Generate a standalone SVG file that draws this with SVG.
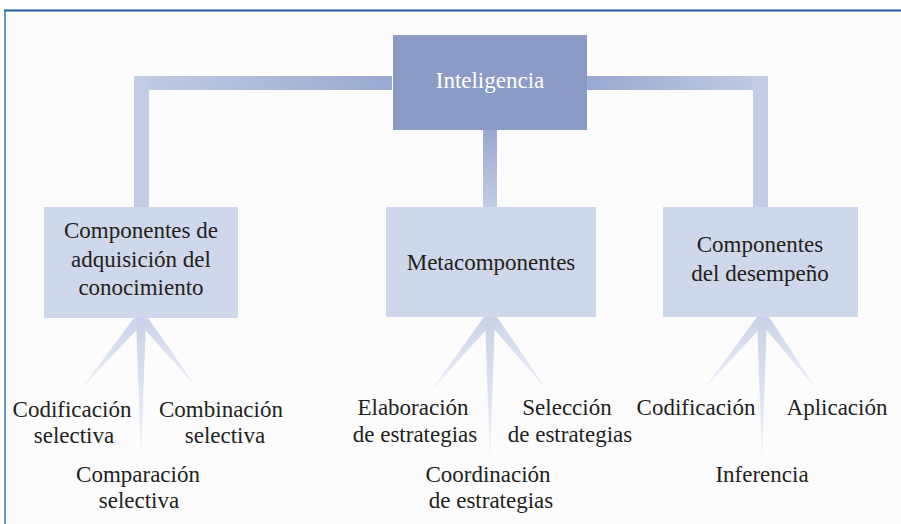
<svg xmlns="http://www.w3.org/2000/svg" width="901" height="524" viewBox="0 0 901 524" font-family="'Liberation Serif', 'Times New Roman', serif">
<defs>
<style>
text{font-family:'Liberation Serif','Times New Roman',serif;font-size:23px;fill:#231f20;text-anchor:middle}
.w{fill:#ffffff}
.box{fill:#cfd7ea}
.spoke{fill:url(#sg)}
</style>
<linearGradient id="hl" x1="134" y1="0" x2="392" y2="0" gradientUnits="userSpaceOnUse">
<stop offset="0" stop-color="#c3cce5"/><stop offset="1" stop-color="#9aa9d0"/>
</linearGradient>
<linearGradient id="hr" x1="587" y1="0" x2="768" y2="0" gradientUnits="userSpaceOnUse">
<stop offset="0" stop-color="#9aa9d0"/><stop offset="1" stop-color="#c3cce5"/>
</linearGradient>
<linearGradient id="vm" x1="0" y1="130" x2="0" y2="207" gradientUnits="userSpaceOnUse">
<stop offset="0" stop-color="#9aa9d0"/><stop offset="1" stop-color="#c3cce5"/>
</linearGradient>
<linearGradient id="sg" x1="0" y1="0" x2="0" y2="1">
<stop offset="0" stop-color="#c8d1e8"/><stop offset="1" stop-color="#f0f2f9"/>
</linearGradient>
</defs>
<rect x="0" y="0" width="901" height="524" fill="#ffffff"/>
<rect x="5" y="11" width="896" height="513" fill="#fcfcfd"/>
<line x1="4" y1="10.5" x2="901" y2="10.5" stroke="#1f5fa9" stroke-width="2"/>
<line x1="5" y1="10" x2="5" y2="524" stroke="#3e72b6" stroke-width="1.5"/>
<g id="connectors">
<rect x="134" y="76" width="258" height="14" fill="url(#hl)"/>
<rect x="134" y="76" width="15" height="131" fill="#c3cce5"/>
<rect x="587" y="76" width="181" height="14" fill="url(#hr)"/>
<rect x="753" y="76" width="15" height="131" fill="#c3cce5"/>
<rect x="483" y="130" width="14" height="77" fill="url(#vm)"/>
<polygon class="spoke" points="134,318 145,321 80,390"/>
<polygon class="spoke" points="137,321 148,318 197,388"/>
<polygon class="spoke" points="136,318 146,318 141,458"/>
<polygon class="spoke" points="484,317 495,320 430,392"/>
<polygon class="spoke" points="486,320 497,317 547,390"/>
<polygon class="spoke" points="485,317 495,317 490,460"/>
<polygon class="spoke" points="757,317 768,320 703,390"/>
<polygon class="spoke" points="758,320 769,317 817,390"/>
<polygon class="spoke" points="757,317 767,317 762,460"/>
</g>
<g id="inteligencia">
<rect x="393" y="35" width="194" height="95" fill="#8a9bc6"/>
<text class="w" x="490" y="88">Inteligencia</text>
</g>
<g id="adquisicion">
<rect class="box" x="44" y="207" width="194" height="111"/>
<text x="141" y="238">Componentes de</text>
<text x="141" y="267">adquisición del</text>
<text x="141" y="295">conocimiento</text>
</g>
<g id="metacomponentes">
<rect class="box" x="386" y="207" width="210" height="110"/>
<text x="491" y="270">Metacomponentes</text>
</g>
<g id="desempeno">
<rect class="box" x="663" y="207" width="195" height="110"/>
<text x="760" y="252">Componentes</text>
<text x="760" y="281">del desempeño</text>
</g>
<g id="codificacion-selectiva">
<text x="72" y="417">Codificación</text>
<text x="74" y="443">selectiva</text>
</g>
<g id="combinacion-selectiva">
<text x="221" y="417">Combinación</text>
<text x="225" y="443">selectiva</text>
</g>
<g id="comparacion-selectiva">
<text x="138" y="482">Comparación</text>
<text x="139" y="508">selectiva</text>
</g>
<g id="elaboracion">
<text x="413" y="415">Elaboración</text>
<text x="415" y="442">de estrategias</text>
</g>
<g id="seleccion">
<text x="567" y="415">Selección</text>
<text x="570" y="442">de estrategias</text>
</g>
<g id="coordinacion">
<text x="488" y="482">Coordinación</text>
<text x="491" y="508">de estrategias</text>
</g>
<g id="codificacion">
<text x="696" y="415">Codificación</text>
</g>
<g id="aplicacion">
<text x="837" y="415">Aplicación</text>
</g>
<g id="inferencia">
<text x="762" y="482">Inferencia</text>
</g>
</svg>
